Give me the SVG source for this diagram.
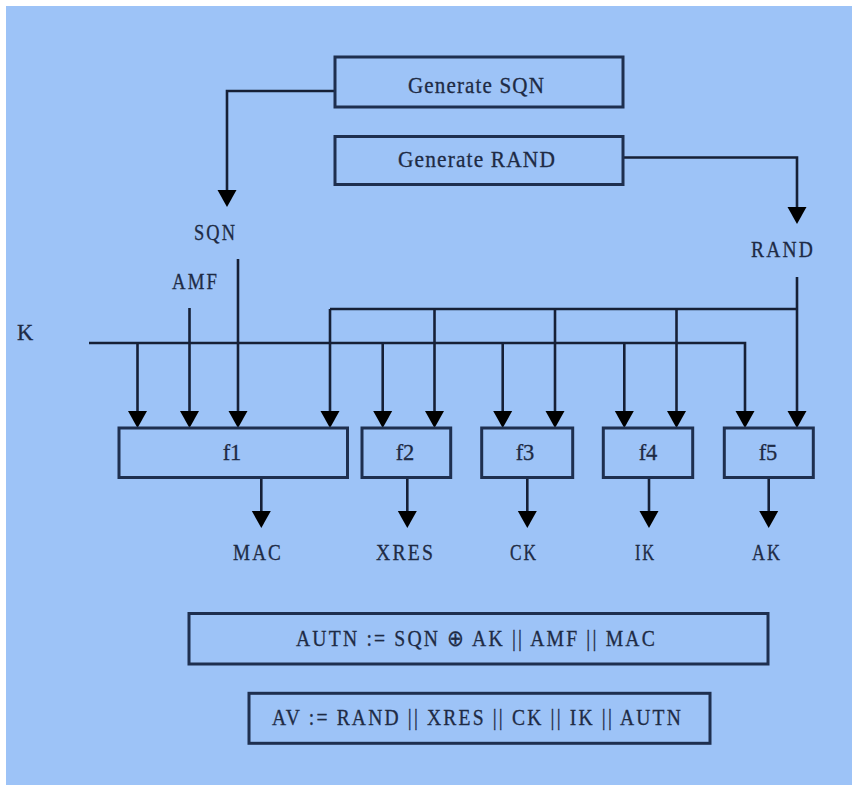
<svg xmlns="http://www.w3.org/2000/svg" width="859" height="786" viewBox="0 0 859 786">
<style>
.bg{fill:#9dc3f7}
.box{fill:#9dc3f7;stroke:#1e2f4f;stroke-width:3}
.ln{fill:none;stroke:#162036;stroke-width:2.6}
.t{font-family:"Liberation Serif","Times New Roman",serif;font-size:22.5px;fill:#1e2b45;stroke:#1e2b45;stroke-width:0.3}
.s{letter-spacing:2.5px}
.c{text-anchor:middle}
</style>
<defs>
<marker id="ah" viewBox="0 -10 17 20" refX="9" refY="0" markerWidth="17" markerHeight="20" markerUnits="userSpaceOnUse" orient="auto">
<path d="M0,-9.5 L17,0 L0,9.5 z" fill="#000"/>
</marker>
</defs>
<rect width="859" height="786" fill="#ffffff"/>
<rect class="bg" x="6" y="6" width="846" height="779"/>

<g id="connectors">
<path class="ln" d="M335,91 H227 V199" marker-end="url(#ah)"/>
<path class="ln" d="M623,157.5 H797 V216" marker-end="url(#ah)"/>
<path class="ln" d="M238,259 V420" marker-end="url(#ah)"/>
<path class="ln" d="M189.5,308 V420" marker-end="url(#ah)"/>
<path class="ln" d="M89,343 H745 V420" marker-end="url(#ah)"/>
<path class="ln" d="M137.5,343 V420" marker-end="url(#ah)"/>
<path class="ln" d="M382.7,343 V420" marker-end="url(#ah)"/>
<path class="ln" d="M502.7,343 V420" marker-end="url(#ah)"/>
<path class="ln" d="M624.3,343 V420" marker-end="url(#ah)"/>
<path class="ln" d="M797,277 V420" marker-end="url(#ah)"/>
<path class="ln" d="M330,309 H797"/>
<path class="ln" d="M330,309 V420" marker-end="url(#ah)"/>
<path class="ln" d="M434.5,309 V420" marker-end="url(#ah)"/>
<path class="ln" d="M555,309 V420" marker-end="url(#ah)"/>
<path class="ln" d="M676.5,309 V420" marker-end="url(#ah)"/>
<path class="ln" d="M261.3,477.5 V520" marker-end="url(#ah)"/>
<path class="ln" d="M407.3,477.5 V520" marker-end="url(#ah)"/>
<path class="ln" d="M527.3,477.5 V520" marker-end="url(#ah)"/>
<path class="ln" d="M649,477.5 V520" marker-end="url(#ah)"/>
<path class="ln" d="M768.7,477.5 V520" marker-end="url(#ah)"/>
</g>

<g id="gen-sqn">
<rect class="box" x="335" y="57" width="288" height="50"/>
<text class="t" x="408" y="93" style="letter-spacing:1.2px" textLength="137" lengthAdjust="spacingAndGlyphs">Generate SQN</text>
</g>
<g id="gen-rand">
<rect class="box" x="335" y="136.5" width="288" height="48"/>
<text class="t" x="398" y="166.5" style="letter-spacing:1.2px" textLength="158" lengthAdjust="spacingAndGlyphs">Generate RAND</text>
</g>

<g id="lbl-sqn"><text class="t s" x="194" y="239.5" textLength="43" lengthAdjust="spacingAndGlyphs">SQN</text></g>
<g id="lbl-amf"><text class="t s" x="172" y="288.5" textLength="47" lengthAdjust="spacingAndGlyphs">AMF</text></g>
<g id="lbl-k"><text class="t" x="17" y="340">K</text></g>
<g id="lbl-rand"><text class="t s" x="751" y="256.5" textLength="64" lengthAdjust="spacingAndGlyphs">RAND</text></g>

<g id="f1"><rect class="box" x="119" y="428" width="228.5" height="49.5"/><text class="t c" x="232" y="459.5">f1</text></g>
<g id="f2"><rect class="box" x="362" y="428" width="88.7" height="49.5"/><text class="t c" x="405" y="459.5">f2</text></g>
<g id="f3"><rect class="box" x="481.7" y="428" width="91" height="49.5"/><text class="t c" x="525" y="459.5">f3</text></g>
<g id="f4"><rect class="box" x="603.3" y="428" width="89.4" height="49.5"/><text class="t c" x="648" y="459.5">f4</text></g>
<g id="f5"><rect class="box" x="724.3" y="428" width="89" height="49.5"/><text class="t c" x="768" y="459.5">f5</text></g>

<g id="out-mac"><text class="t s" x="233" y="559.5" textLength="50" lengthAdjust="spacingAndGlyphs">MAC</text></g>
<g id="out-xres"><text class="t s" x="376" y="559.5" textLength="59" lengthAdjust="spacingAndGlyphs">XRES</text></g>
<g id="out-ck"><text class="t s" x="510" y="559.5" textLength="28" lengthAdjust="spacingAndGlyphs">CK</text></g>
<g id="out-ik"><text class="t s" x="635" y="559.5" textLength="21" lengthAdjust="spacingAndGlyphs">IK</text></g>
<g id="out-ak"><text class="t s" x="752" y="559.5" textLength="30" lengthAdjust="spacingAndGlyphs">AK</text></g>

<g id="autn">
<rect class="box" x="189" y="613.5" width="579" height="50.5"/>
<text class="t s" x="296" y="645.5" textLength="361" lengthAdjust="spacingAndGlyphs">AUTN := SQN ⊕ AK || AMF || MAC</text>
</g>
<g id="av">
<rect class="box" x="249" y="693.3" width="461" height="50"/>
<text class="t s" x="272" y="724.5" textLength="411" lengthAdjust="spacingAndGlyphs">AV := RAND || XRES || CK || IK || AUTN</text>
</g>
</svg>
